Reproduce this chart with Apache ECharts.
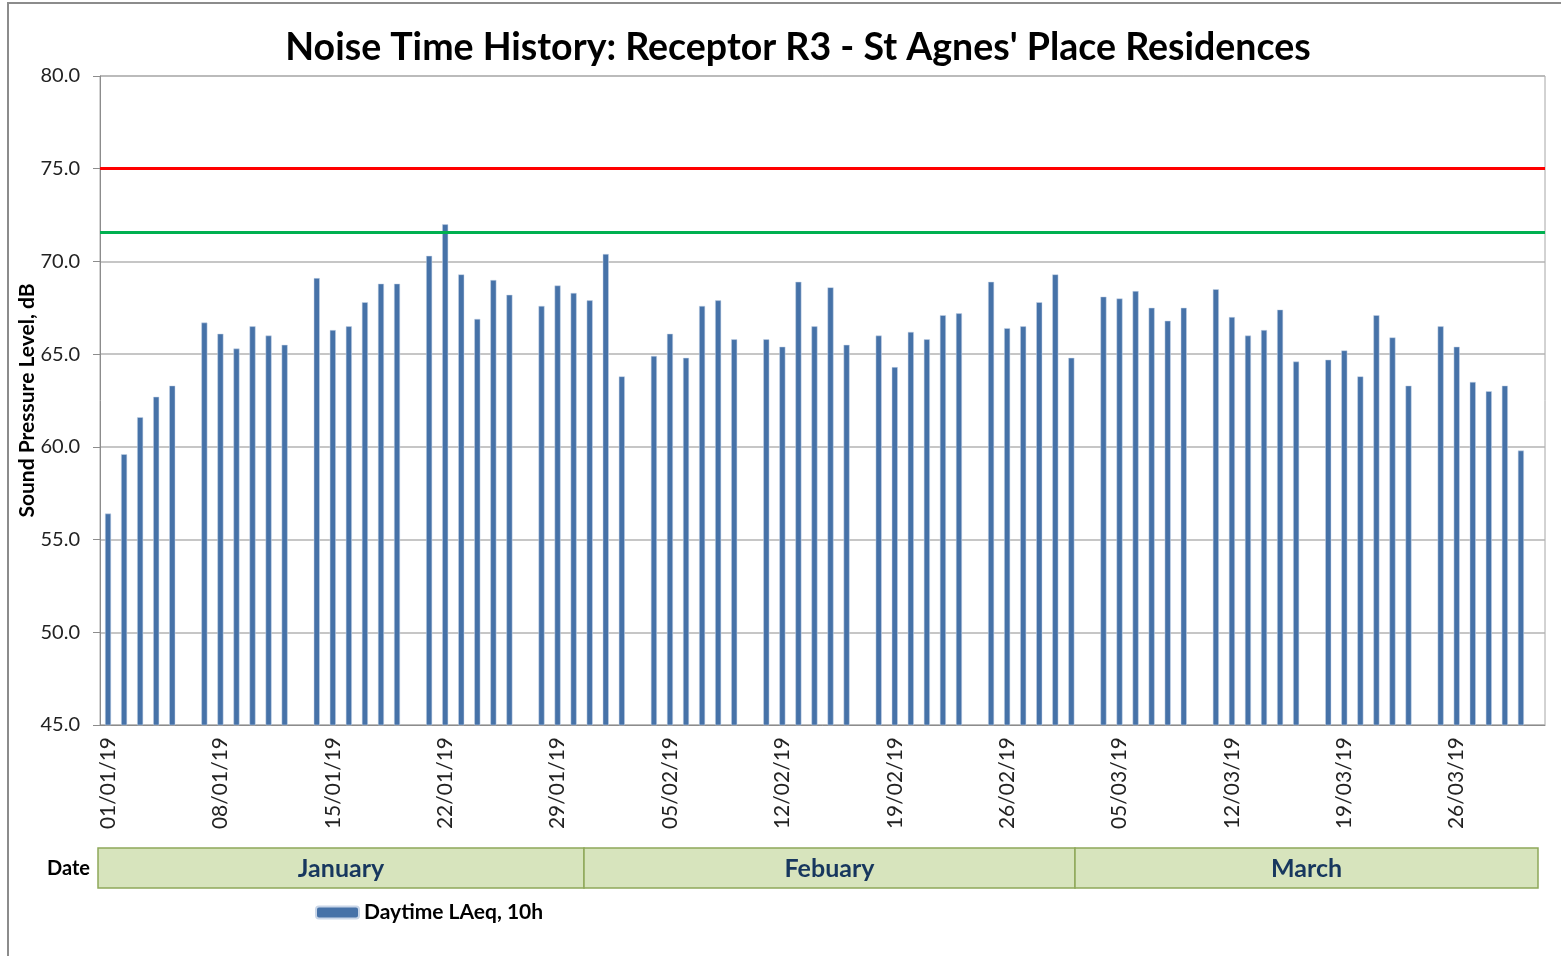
<!DOCTYPE html>
<html>
<head>
<meta charset="utf-8">
<script src="https://cdn.jsdelivr.net/npm/echarts@6/dist/echarts.min.js"></script>
<style>
html,body{margin:0;padding:0;background:#fff;}
#chart{width:1561px;height:956px;}
</style>
</head>
<body>
<div id="chart"></div>
<script>
// ---- Data ----
const titleText = "Noise Time History: Receptor R3 - St Agnes' Place Residences";
const yAxisName = "Sound Pressure Level, dB";
const seriesName = "Daytime LAeq, 10h";
const monthNames = ["January", "Febuary", "March"];
const monthDays = [31, 28, 31];
const year = "19";

// Daily values (Sundays: no measurement)
const janValues = [56.4,59.6,61.6,62.7,63.3,null,66.7,66.1,65.3,66.5,66.0,65.5,null,69.1,66.3,66.5,67.8,68.8,68.8,null,70.3,72.0,69.3,66.9,69.0,68.2,null,67.6,68.7,68.3,67.9];
const febValues = [70.4,63.8,null,64.9,66.1,64.8,67.6,67.9,65.8,null,65.8,65.4,68.9,66.5,68.6,65.5,null,66.0,64.3,66.2,65.8,67.1,67.2,null,68.9,66.4,66.5,67.8];
const marValues = [69.3,64.8,null,68.1,68.0,68.4,67.5,66.8,67.5,null,68.5,67.0,66.0,66.3,67.4,64.6,null,64.7,65.2,63.8,67.1,65.9,63.3,null,66.5,65.4,63.5,63.0,63.3,59.8,null];

const limitRed = 75.0;
const limitGreen = 71.6;
const yMin = 45, yMax = 80, yStep = 5;

// ---- Build categories ----
const categories = [];
monthDays.forEach((n, m) => {
  for (let d = 1; d <= n; d++) {
    categories.push(String(d).padStart(2, '0') + '/' + String(m + 1).padStart(2, '0') + '/' + year);
  }
});
const values = janValues.concat(febValues, marValues);

// ---- Layout (pixels) ----
const FONT = 'Lato, "Open Sans", sans-serif';
const monthEdges = [98, 584, 1075, 1538];
const bandTop = 848, bandH = 40;

const graphics = [
  { type: 'rect', shape: { x: 8, y: 3, width: 1600, height: 1000 }, style: { fill: 'none', stroke: '#8c8c8c', lineWidth: 2 }, silent: true, z: 0 },
  { type: 'text', x: 47, y: bandTop + bandH / 2 + 1, style: { text: 'Date', font: 'bold 20px ' + FONT, fill: '#000', textAlign: 'left', textVerticalAlign: 'middle' } }
];
monthNames.forEach((name, i) => {
  const x0 = monthEdges[i], x1 = monthEdges[i + 1];
  graphics.push({ type: 'rect', shape: { x: x0, y: bandTop, width: x1 - x0, height: bandH }, style: { fill: '#D7E4BD', stroke: '#8FA85A', lineWidth: 1.5 }, z: 1 });
  graphics.push({ type: 'text', x: (x0 + x1) / 2, y: bandTop + bandH / 2 + 1, style: { text: name, font: 'bold 25px ' + FONT, fill: '#17375E', textAlign: 'center', textVerticalAlign: 'middle' }, z: 2 });
});

const chart = echarts.init(document.getElementById('chart'));
chart.setOption({
  animation: false,
  backgroundColor: '#fff',
  title: {
    text: titleText,
    left: 793, top: 24, textAlign: 'center',
    textStyle: { fontFamily: FONT, fontWeight: 'bold', fontSize: 37.5, color: '#000' }
  },
  legend: {
    data: [seriesName], left: 315, top: 902, padding: 0,
    itemWidth: 43, itemHeight: 12, itemGap: 5,
    textStyle: { fontFamily: FONT, fontWeight: 'bold', fontSize: 21, color: '#000', padding: [0, 0, 0, 0] }
  },
  grid: { left: 100, right: 16, top: 76, bottom: 231, show: true, borderColor: '#a6a6a6', borderWidth: 1 },
  xAxis: {
    type: 'category', data: categories, boundaryGap: true,
    axisLine: { lineStyle: { color: '#8c8c8c', width: 1 } },
    axisTick: { interval: 6, length: 6, alignWithLabel: false, lineStyle: { color: '#8c8c8c' } },
    axisLabel: { interval: 6, rotate: 90, margin: 12, fontFamily: FONT, fontSize: 21, color: '#222' }
  },
  yAxis: {
    type: 'value', min: yMin, max: yMax, interval: yStep,
    name: yAxisName, nameLocation: 'middle', nameGap: 62, nameMoveOverlap: false,
    nameTextStyle: { fontFamily: FONT, fontWeight: 'bold', fontSize: 21, color: '#000' },
    axisLine: { show: true, lineStyle: { color: '#8c8c8c' } },
    axisTick: { show: true, length: 7, lineStyle: { color: '#8c8c8c' } },
    axisLabel: { formatter: v => v.toFixed(1), margin: 20, fontFamily: FONT, fontSize: 20, color: '#222' },
    splitLine: { lineStyle: { color: '#b3b3b3', width: 1.5 } }
  },
  series: [{
    name: seriesName, type: 'bar', data: values, barWidth: 6,
    itemStyle: { color: '#4672A8', borderColor: '#c9d6e8', borderWidth: 0.5 },
    markLine: {
      silent: true, symbol: 'none', label: { show: false },
      data: [
        { yAxis: limitRed, lineStyle: { color: '#FF0000', width: 3, type: 'solid' } },
        { yAxis: limitGreen, lineStyle: { color: '#00B050', width: 3, type: 'solid' } }
      ]
    }
  }],
  graphic: graphics
});
</script>
</body>
</html>
